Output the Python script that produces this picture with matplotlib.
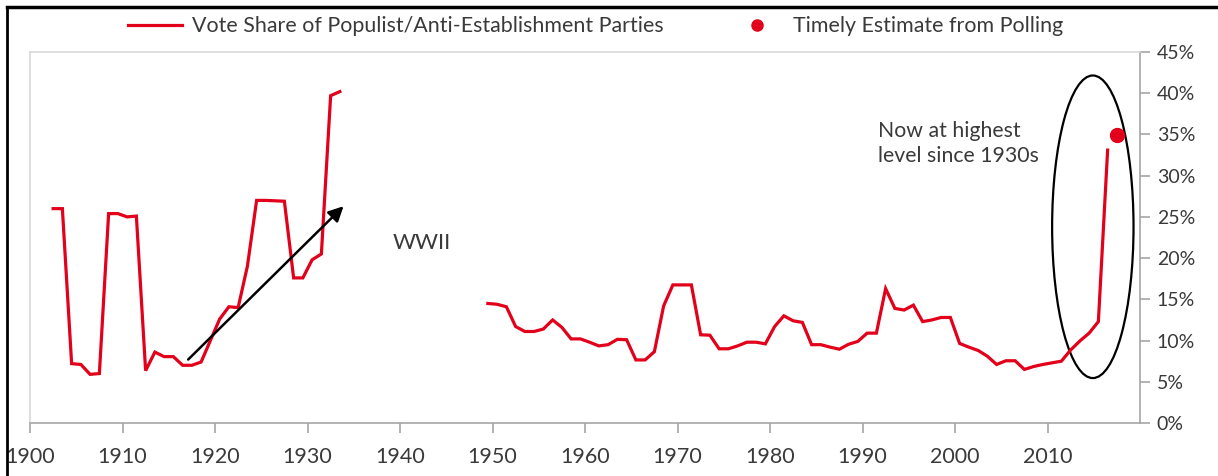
import matplotlib
matplotlib.use("Agg")
import matplotlib.pyplot as plt
from matplotlib.patches import Ellipse
from matplotlib.lines import Line2D
import numpy as np

# ============================================================
# Data (vote share, %)
# ============================================================
prewar_start = 1902
prewar_share = [26.0, 26.0, 7.2, 7.1, 5.9, 6.0, 25.4, 25.4, 25.0, 25.1,
                6.35, 8.6, 8.05, 8.05, 7.0, 7.0, 7.4, 10.0, 12.6, 14.1,
                14.0, 19.0, 27.0, 27.0, 26.95, 26.9, 17.6, 17.6, 19.8, 20.5,
                39.7, 40.2]

postwar_start = 1949
postwar_share = [14.5, 14.4, 14.1, 11.7, 11.1, 11.1, 11.4, 12.5, 11.6, 10.2,
                 10.2, 9.8, 9.35, 9.5, 10.15, 10.1, 7.65, 7.65, 8.65, 14.2,
                 16.75, 16.75, 16.75, 10.7, 10.65, 9.0, 9.0, 9.35, 9.8, 9.8,
                 9.6, 11.7, 13.0, 12.4, 12.2, 9.5, 9.5, 9.2, 8.95, 9.55,
                 9.9, 10.9, 10.9, 16.3, 13.9, 13.7, 14.3, 12.3, 12.5, 12.8,
                 12.8, 9.65, 9.2, 8.8, 8.1, 7.1, 7.55, 7.55, 6.5, 6.85,
                 7.1, 7.3, 7.5, 8.85, 9.95, 10.9, 12.3, 33.1]

poll_year = 2017
poll_share = 34.9

x_ticks = list(range(1900, 2020, 10))
y_ticks = list(range(0, 50, 5))

RED = "#E2001A"
GREY = "#A6A6A6"
TXT = "#3A3A3A"

plt.rcParams["font.family"] = ["Lato", "DejaVu Sans"]

# years are plotted at mid-year
pre_x = np.arange(prewar_start, prewar_start + len(prewar_share)) + 0.5
post_x = np.arange(postwar_start, postwar_start + len(postwar_share)) + 0.5

fig = plt.figure(figsize=(12.18, 4.76), dpi=100)
ax = fig.add_axes([30 / 1218, 53 / 476, 1110 / 1218, 371 / 476])

ax.plot(pre_x, prewar_share, color=RED, linewidth=2.3, solid_joinstyle="miter")
ax.plot(post_x, postwar_share, color=RED, linewidth=2.3, solid_joinstyle="miter")
ax.plot(poll_year + 0.5, poll_share, "o", color=RED, markersize=10)

ax.set_xlim(1900, 2020)
ax.set_ylim(0, 45)

# spines / frame
for s in ["left", "top"]:
    ax.spines[s].set_color("#D9D9D9")
    ax.spines[s].set_linewidth(1.2)
for s in ["right", "bottom"]:
    ax.spines[s].set_color(GREY)
    ax.spines[s].set_linewidth(1.2)

ax.yaxis.tick_right()
ax.set_yticks(y_ticks)
ax.set_yticklabels([f"{v}%" for v in y_ticks])
ax.set_xticks(x_ticks)
ax.set_xticklabels([str(v) for v in x_ticks])
ax.tick_params(axis="y", which="both", left=False, right=True, length=7,
               width=1.2, color=GREY, pad=5, labelsize=14, labelcolor=TXT)
ax.tick_params(axis="x", length=7, width=1.2, color=GREY, pad=10,
               labelsize=15.5, labelcolor=TXT)

# annotations
ax.annotate("", xy=(1933.9, 26.3), xytext=(1917.1, 7.7),
            arrowprops=dict(arrowstyle="-|>,head_length=0.9,head_width=0.45",
                            color="black", lw=1.8, shrinkA=0, shrinkB=0))
ax.text(1939.2, 21.8, "WWII", fontsize=16, color=TXT, va="center", ha="left")
ax.text(1991.7, 33.9, "Now at highest\nlevel since 1930s", fontsize=15.3,
        color=TXT, va="center", ha="left", linespacing=1.3)
ax.add_patch(Ellipse((2014.9, 23.8), 8.8, 36.7, fill=False,
                     edgecolor="black", linewidth=1.6))

# legend
handles = [Line2D([], [], color=RED, linewidth=2.3),
           Line2D([], [], color=RED, marker="o", linestyle="none", markersize=8)]
labels = ["Vote Share of Populist/Anti-Establishment Parties",
          "Timely Estimate from Polling"]
fig.legend(handles, labels, loc="center", bbox_to_anchor=(596 / 1218, 1 - 26 / 476),
           ncol=2, frameon=False, fontsize=15.4, handlelength=2.5,
           handletextpad=0.47, columnspacing=3.1, labelcolor=TXT)

# outer page border
fig.add_artist(Line2D([7 / 1218, 7 / 1218], [0, 1 - 7 / 476], color="black",
                      linewidth=2, transform=fig.transFigure))
fig.add_artist(Line2D([7 / 1218, 1], [1 - 7 / 476, 1 - 7 / 476], color="black",
                      linewidth=2.5, transform=fig.transFigure))

fig.savefig("out.png", dpi=100)
